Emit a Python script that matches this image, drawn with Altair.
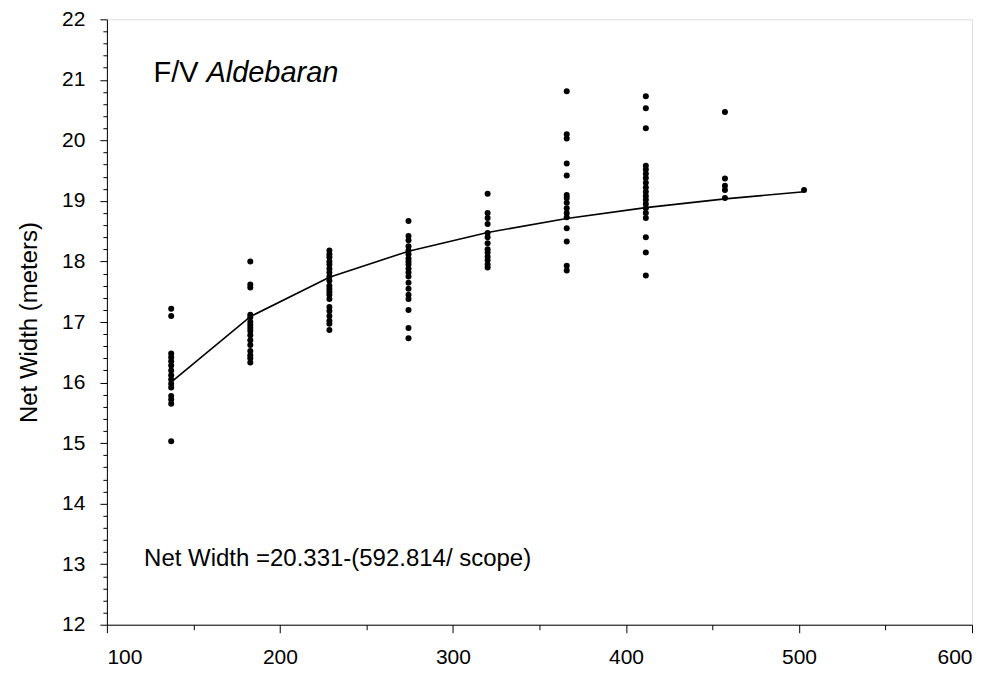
import altair as alt
import pandas as pd

# Scope (m) values and observed net widths (m)
scope_137 = [17.22, 17.10, 16.48, 16.42, 16.35, 16.28, 16.20, 16.12, 16.05, 15.98, 15.92, 15.78, 15.72, 15.65, 15.03]
scope_183 = [18.00, 17.62, 17.57, 17.12, 17.08, 17.00, 16.95, 16.90, 16.85, 16.78, 16.70, 16.62, 16.52, 16.45, 16.40, 16.33]
scope_229 = [18.18, 18.12, 18.07, 18.00, 17.95, 17.88, 17.82, 17.75, 17.68, 17.60, 17.55, 17.50, 17.45, 17.38, 17.25, 17.18, 17.10, 17.02, 16.97, 16.87]
scope_274 = [18.67, 18.42, 18.35, 18.25, 18.18, 18.12, 18.05, 18.00, 17.95, 17.88, 17.82, 17.75, 17.65, 17.55, 17.45, 17.38, 17.20, 16.90, 16.73]
scope_320 = [19.12, 18.80, 18.72, 18.62, 18.47, 18.40, 18.30, 18.20, 18.15, 18.08, 18.02, 17.95, 17.90]
scope_366 = [20.81, 20.10, 20.03, 19.62, 19.42, 19.10, 19.05, 18.97, 18.88, 18.80, 18.73, 18.55, 18.33, 17.93, 17.85]
scope_411 = [20.73, 20.53, 20.20, 19.58, 19.52, 19.45, 19.38, 19.30, 19.22, 19.15, 19.08, 19.02, 18.95, 18.88, 18.80, 18.72, 18.40, 18.15, 17.77]
scope_457 = [20.47, 19.37, 19.25, 19.18, 19.05]
scope_503 = [19.18]

scopes = [137.16, 182.88, 228.6, 274.32, 320.04, 365.76, 411.48, 457.2, 502.92]
groups = [scope_137, scope_183, scope_229, scope_274, scope_320, scope_366, scope_411, scope_457, scope_503]

# fitted curve values at each scope
fit_values = [16.009, 17.090, 17.738, 18.170, 18.479, 18.710, 18.890, 19.034, 19.152]

x_major_ticks = [100, 200, 300, 400, 500, 600]
x_minor_ticks = [150, 250, 350, 450, 550]
y_major_ticks = list(range(12, 23))
y_minor_ticks = [round(12 + 0.2 * i, 1) for i in range(51) if i % 5 != 0]

rows = []
for s, g in zip(scopes, groups):
    for v in g:
        rows.append({"scope": s, "width": v})
pts = pd.DataFrame(rows)
fit = pd.DataFrame({"scope": scopes, "width": fit_values})

FONT = "Liberation Sans"

xscale = alt.Scale(domain=[100, 600], nice=False, zero=False)
yscale = alt.Scale(domain=[12, 22], nice=False, zero=False)

x_major = alt.X("scope:Q", scale=xscale, title=None,
                axis=alt.Axis(values=x_major_ticks, tickSize=8, labelFontSize=21,
                              labelFont=FONT, labelColor="black", tickColor="black", domainColor="black",
                              grid=False, labelPadding=14, orient="bottom"))
y_major = alt.Y("width:Q", scale=yscale, title="Net Width (meters)",
                axis=alt.Axis(values=y_major_ticks, tickSize=7, labelFontSize=21,
                              labelFont=FONT, labelColor="black", tickColor="black", domainColor="black",
                              grid=False, labelPadding=15, titleFont=FONT, titleFontSize=24,
                              titleFontWeight="normal", titleColor="black", titlePadding=20, orient="left"))

points = alt.Chart(pts).mark_circle(color="black", opacity=1, size=36).encode(x=x_major, y=y_major)

x_minor = alt.X("scope:Q", scale=xscale, title=None,
                axis=alt.Axis(values=x_minor_ticks, tickSize=5, labels=False, domain=False,
                              tickColor="black", grid=False, orient="bottom"))
y_minor = alt.Y("width:Q", scale=yscale, title=None,
                axis=alt.Axis(values=y_minor_ticks, tickSize=4, labels=False, domain=False,
                              tickColor="black", grid=False, orient="left"))

line = alt.Chart(fit).mark_line(color="black", strokeWidth=1.6).encode(x=x_minor, y=y_minor)

ann = pd.DataFrame({"scope": [127, 157.5, 121.5], "width": [21.12, 21.12, 13.08],
                    "label": ["F/V", "Aldebaran", "Net Width =20.331-(592.814/ scope)"]})

def txt(df, size, style="normal"):
    return alt.Chart(df).mark_text(align="left", baseline="middle", font=FONT, fontSize=size,
                                   fontStyle=style, color="black").encode(
        x=alt.X("scope:Q", scale=xscale, axis=None),
        y=alt.Y("width:Q", scale=yscale, axis=None),
        text="label:N")

t1 = txt(ann.iloc[[0]], 29)
t2 = txt(ann.iloc[[1]], 29, "italic")
t3 = txt(ann.iloc[[2]], 24)

chart = alt.layer(points, line, t1, t2, t3).resolve_axis(x="independent", y="independent").properties(
    width=866, height=606,
    autosize=alt.AutoSizeParams(type="none"),
    padding={"left": 99, "top": 11, "right": 20, "bottom": 45},
).configure_view(stroke="black", strokeWidth=1).configure(background="white")

chart.save("out.html", embed_options={"renderer": "svg", "actions": False})
